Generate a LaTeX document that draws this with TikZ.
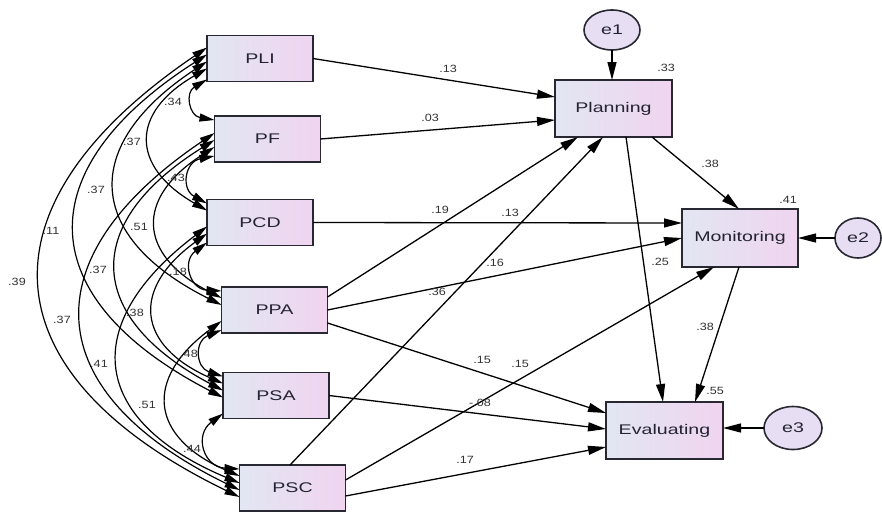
\documentclass[tikz,border=0pt]{standalone}
\usepackage{fontspec}
\setmainfont{Liberation Sans}
\newfontfamily\boxfont[FakeStretch=1.4]{Liberation Sans}
\newfontfamily\numfont[FakeStretch=1.2]{Liberation Sans}
\usetikzlibrary{arrows.meta,shapes.geometric,calc}
\definecolor{boxL}{RGB}{226,230,242}
\definecolor{boxR}{RGB}{240,212,240}
\definecolor{ellF}{RGB}{232,222,244}
\definecolor{edgec}{RGB}{40,40,50}
\definecolor{txtc}{RGB}{35,35,50}
\definecolor{numc}{RGB}{50,50,50}
\begin{document}
\begin{tikzpicture}[x=1pt,y=1pt,
  var/.style={draw=edgec, line width=1.6pt, left color=boxL, right color=boxR,
    minimum width=106pt, minimum height=46pt, inner sep=0pt, outer sep=0pt,
    font=\boxfont\fontsize{14}{16}\selectfont, text=txtc},
  bigvar/.style={var, minimum width=117pt, minimum height=57pt},
  err/.style={ellipse, draw=edgec, line width=1.6pt, fill=ellF, inner sep=0pt, outer sep=0pt,
    font=\boxfont\fontsize{14}{16}\selectfont, text=txtc},
  reg/.style={black, line width=1.3pt, -{Triangle[length=18pt,width=9pt]}},
  cov/.style={black, line width=1.2pt, {Triangle[length=15pt,width=8pt]}-{Triangle[length=15pt,width=8pt]},
    bend right=60, looseness=1.6},
  covn/.style={cov, bend right=70, looseness=1.6},
  num/.style={font=\numfont\fontsize{10.5}{12}\selectfont, text=numc, inner sep=0pt}
]
\useasboundingbox (0,0) rectangle (882,-511);

% exogenous variables
\node[var] (PLI) at (260,-58.5) {PLI};
\node[var] (PF)  at (267.5,-139) {PF};
\node[var] (PCD) at (260,-222.5) {PCD};
\node[var] (PPA) at (274.5,-310) {PPA};
\node[var] (PSA) at (276,-395.5) {PSA};
\node[var] (PSC) at (292.5,-488) {PSC};

% endogenous variables
\node[bigvar] (Plan) at (613.5,-108.5) {Planning};
\node[bigvar, minimum width=116pt, minimum height=58pt] (Mon) at (740,-238) {Monitoring};
\node[bigvar] (Eval) at (664.5,-430.5) {Evaluating};

% errors
\node[err, minimum width=56pt, minimum height=40pt] (e1) at (612,-30) {e1};
\node[err, minimum width=46pt, minimum height=40pt] (e2) at (858,-238) {e2};
\node[err, minimum width=58pt, minimum height=43pt] (e3) at (793,-428) {e3};

% covariances: adjacent
\draw[covn] ([yshift=-44pt]PLI.north west) to ([yshift=-4pt]PF.north west);
\draw[covn] ([yshift=-40pt]PF.north west) to ([yshift=-4pt]PCD.north west);
\draw[covn] ([yshift=-43pt]PCD.north west) to ([yshift=-4pt]PPA.north west);
\draw[covn] ([yshift=-43pt]PPA.north west) to ([yshift=-4pt]PSA.north west);
\draw[covn] ([yshift=-41pt]PSA.north west) to ([yshift=-4pt]PSC.north west);
% distance 2
\draw[cov] ([yshift=-33pt]PLI.north west) to ([yshift=-11pt]PCD.north west);
\draw[cov] ([yshift=-31pt]PF.north west) to ([yshift=-11pt]PPA.north west);
\draw[cov] ([yshift=-34pt]PCD.north west) to ([yshift=-11pt]PSA.north west);
\draw[cov] ([yshift=-34pt]PPA.north west) to ([yshift=-11pt]PSC.north west);
% distance 3
\draw[cov] ([yshift=-26pt]PLI.north west) to ([yshift=-18pt]PPA.north west);
\draw[cov] ([yshift=-24pt]PF.north west) to ([yshift=-18pt]PSA.north west);
\draw[cov] ([yshift=-27pt]PCD.north west) to ([yshift=-18pt]PSC.north west);
% distance 4
\draw[cov] ([yshift=-19pt]PLI.north west) to ([yshift=-25pt]PSA.north west);
\draw[cov] ([yshift=-17pt]PF.north west) to ([yshift=-25pt]PSC.north west);
% distance 5
\draw[cov] ([yshift=-12pt]PLI.north west) to ([yshift=-32pt]PSC.north west);

% regression paths
\draw[reg] (PLI.east) -- ([yshift=11.5pt]Plan.west);
\draw[reg] (PF.east) -- ([yshift=-11.5pt]Plan.west);
\draw[reg] (PCD.east) -- ([yshift=15pt]Mon.west);
\draw[reg] ([yshift=13pt]PPA.east) -- ([xshift=-35.5pt]Plan.south);
\draw[reg] (PPA.east) -- (Mon.west);
\draw[reg] ([yshift=-13pt]PPA.east) -- ([yshift=17.5pt]Eval.west);
\draw[reg] (PSA.east) -- ([yshift=1.5pt]Eval.west);
\draw[reg] ([xshift=-2.5pt]PSC.north) -- ([xshift=-10.5pt]Plan.south);
\draw[reg] ([yshift=8pt]PSC.east) -- ([xshift=-26pt]Mon.south);
\draw[reg] ([yshift=-8pt]PSC.east) -- ([yshift=-16.5pt]Eval.west);
\draw[reg] ([xshift=38.5pt]Plan.south) -- ([xshift=-1pt]Mon.north);
\draw[reg] ([xshift=12.5pt]Plan.south) -- ([xshift=-1.5pt]Eval.north);
\draw[reg] ([xshift=-1pt]Mon.south) -- ([xshift=30.5pt]Eval.north);
\draw[reg] (e1.south) -- (e1.south |- Plan.north);
\draw[reg] (e2.west) -- (e2.west -| Mon.east);
\draw[reg] (e3.west) -- (e3.west -| Eval.east);

% path coefficients
\node[num] (n1) at (448,-69) {.13};
\node[num] (n2) at (430,-118) {.03};
\node[num] (n3) at (666,-68) {.33};
\node[num] (n4) at (710,-164) {.38};
\node[num] (n5) at (788,-200) {.41};
\node[num] (n6) at (440,-210) {.19};
\node[num] (n7) at (510,-213) {.13};
\node[num] (n8) at (495,-263) {.16};
\node[num] (n9) at (437,-292) {.36};
\node[num] (n10) at (660,-262) {.25};
\node[num] (n11) at (705,-327) {.38};
\node[num] (n12) at (715,-391) {.55};
\node[num] (n13) at (482,-360) {.15};
\node[num] (n14) at (520,-364) {.15};
\node[num] (n15) at (480,-403) {-.08};
\node[num] (n16) at (465,-460) {.17};

% covariance values
\node[num] (c1) at (173,-102) {.34};
\node[num] (c2) at (132,-142) {.37};
\node[num] (c3) at (96,-190) {.37};
\node[num] (c4) at (51,-231) {.11};
\node[num] (c5) at (176,-178) {.43};
\node[num] (c6) at (139,-227) {.51};
\node[num] (c7) at (178,-272) {.18};
\node[num] (c8) at (17,-282) {.39};
\node[num] (c9) at (98,-270) {.37};
\node[num] (c10) at (62,-320) {.37};
\node[num] (c11) at (135,-313) {.38};
\node[num] (c12) at (99,-364) {.41};
\node[num] (c13) at (189,-354) {.48};
\node[num] (c14) at (147,-405) {.51};
\node[num] (c15) at (192,-449) {.44};
\end{tikzpicture}
\end{document}
